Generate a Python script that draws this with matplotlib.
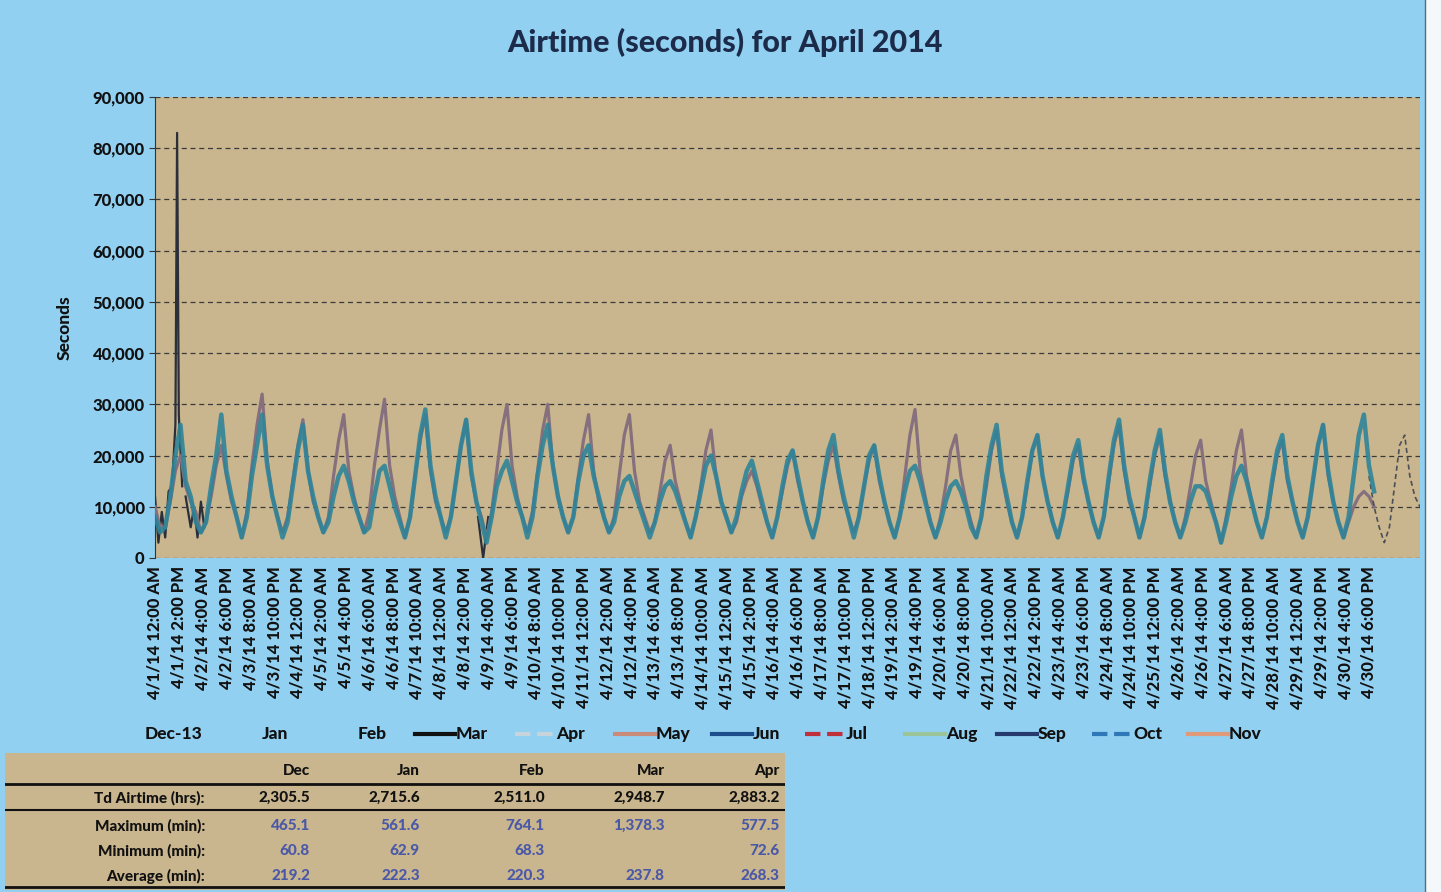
import numpy as np
import pandas as pd
import matplotlib
matplotlib.use("Agg")
from matplotlib import pyplot as plt
from matplotlib.lines import Line2D
from matplotlib.patches import Rectangle

plt.rcParams['font.family'] = ['Lato', 'DejaVu Sans']

# hourly samples per day, in thousands of seconds: 0h 3h 6h 9h 12h 15h 18h 21h
sample_hours = [0, 3, 6, 9, 12, 15, 18, 21]

teal_rows = [
    [8, 5, 6, 12, 20, 26, 15, 12],
    [7, 5, 7, 14, 20, 28, 17, 12],
    [8, 4, 8, 16, 22, 28, 18, 12],
    [8, 4, 7, 14, 21, 26, 17, 12],
    [8, 5, 7, 12, 16, 18, 15, 11],
    [8, 5, 6, 12, 17, 18, 14, 10],
    [7, 4, 8, 16, 24, 29, 18, 12],
    [8, 4, 8, 15, 22, 27, 17, 11],
    [7, 3, 8, 14, 17, 19, 15, 11],
    [8, 4, 8, 16, 22, 26, 18, 12],
    [8, 5, 8, 15, 20, 22, 16, 12],
    [8, 5, 7, 12, 15, 16, 13, 10],
    [7, 4, 7, 11, 14, 15, 13, 10],
    [7, 4, 8, 13, 18, 20, 16, 11],
    [8, 5, 8, 13, 17, 19, 15, 11],
    [7, 4, 8, 14, 19, 21, 16, 11],
    [7, 4, 8, 15, 21, 24, 17, 12],
    [8, 4, 8, 14, 20, 22, 16, 11],
    [7, 4, 8, 13, 17, 18, 15, 11],
    [7, 4, 7, 11, 14, 15, 13, 10],
    [6, 4, 8, 16, 22, 26, 17, 12],
    [7, 4, 8, 15, 21, 24, 16, 11],
    [7, 4, 8, 14, 20, 23, 16, 11],
    [7, 4, 8, 16, 23, 27, 18, 12],
    [8, 4, 8, 15, 21, 25, 17, 11],
    [7, 4, 7, 11, 14, 14, 13, 10],
    [7, 3, 7, 12, 16, 18, 15, 11],
    [7, 4, 8, 15, 21, 24, 16, 11],
    [7, 4, 8, 15, 22, 26, 17, 11],
    [7, 4, 8, 16, 24, 28, 18, 13],
]

mauve_rows = [
    [10, 6, 6, 11, 17, 20, 14, 11],
    [9, 5, 7, 12, 18, 22, 16, 11],
    [8, 4, 9, 18, 26, 32, 19, 12],
    [8, 5, 8, 15, 22, 27, 17, 11],
    [8, 5, 8, 16, 23, 28, 17, 12],
    [8, 5, 9, 18, 25, 31, 18, 12],
    [8, 4, 8, 16, 23, 28, 17, 11],
    [8, 5, 8, 15, 22, 27, 16, 11],
    [8, 4, 9, 17, 25, 30, 18, 12],
    [8, 5, 9, 17, 25, 30, 18, 12],
    [8, 5, 8, 16, 23, 28, 17, 11],
    [8, 5, 8, 16, 24, 28, 17, 11],
    [8, 5, 7, 13, 19, 22, 15, 11],
    [7, 4, 8, 14, 21, 25, 16, 11],
    [8, 5, 7, 12, 15, 17, 14, 10],
    [7, 4, 8, 13, 18, 21, 15, 11],
    [7, 4, 8, 14, 19, 22, 16, 11],
    [8, 5, 8, 14, 19, 22, 15, 11],
    [7, 4, 8, 16, 24, 29, 17, 12],
    [7, 4, 8, 14, 21, 24, 16, 11],
    [7, 4, 8, 14, 21, 25, 16, 11],
    [7, 4, 8, 14, 21, 24, 16, 11],
    [7, 4, 8, 13, 19, 22, 15, 11],
    [7, 4, 8, 15, 22, 26, 17, 11],
    [8, 4, 8, 14, 20, 24, 16, 11],
    [7, 4, 8, 14, 20, 23, 15, 11],
    [7, 3, 8, 14, 21, 25, 16, 11],
    [7, 4, 8, 14, 20, 23, 15, 11],
    [7, 4, 8, 15, 22, 26, 16, 11],
    [7, 4, 7, 10, 12, 13, 12, 10],
]

# dashed grey series running into a 31st day
gray_hours = [714, 717, 720, 723, 726, 729, 732, 735, 738, 741, 744]
gray_vals = [16, 10, 6, 3, 6, 14, 22, 24, 16, 12, 10]

# dark series: visible fragments only (start, spike, dip)
dark_hours = [0, 2, 4, 6, 8, 10, 12, 13, 14, 16, np.nan, 18, 21, 23, 25, 27, 29, np.nan, 190, 193, 196]
dark_vals = [12, 3, 9, 4, 13, 14, 26, 83, 28, 14, np.nan, 12, 6, 10, 4, 11, 6, np.nan, 8, 0, 8]

legend_names = ['Dec-13', 'Jan', 'Feb', 'Mar', 'Apr', 'May', 'Jun', 'Jul', 'Aug', 'Sep', 'Oct', 'Nov']
legend_colors = [None, None, None, '#111111', '#c8d4dc', '#c98a7a', '#1f4e8c', '#c0303a',
                 '#9cc49a', '#263a6e', '#2f78b8', '#e09a7a']
legend_styles = [None, None, None, '-', '--', '-', '-', '--', '-', '-', '--', '-']

table_cols = ['Dec', 'Jan', 'Feb', 'Mar', 'Apr']
table_rows = ['Td Airtime (hrs):', 'Maximum (min):', 'Minimum (min):', 'Average (min):']
table_vals = [
    ['2,305.5', '2,715.6', '2,511.0', '2,948.7', '2,883.2'],
    ['465.1', '561.6', '764.1', '1,378.3', '577.5'],
    ['60.8', '62.9', '68.3', '', '72.6'],
    ['219.2', '222.3', '220.3', '237.8', '268.3'],
]

tick_times = pd.date_range('2014-04-01', periods=52, freq='14h')

BG = '#92d0f2'
PLOT_BG = '#c9b68e'
W = 'black'

fig = plt.figure(figsize=(14.41, 8.92), dpi=100, facecolor=BG)
fig.patches.append(Rectangle((1425 / 1441, 0), 16 / 1441, 1, transform=fig.transFigure,
                             facecolor='#f4f8fa', edgecolor='none', zorder=0))
fig.add_artist(Line2D([1425 / 1441, 1425 / 1441], [0, 1], transform=fig.transFigure,
                      color='#5a6a78', lw=1))

ax = fig.add_axes([155 / 1441, 1 - 558 / 892, 1265 / 1441, 461 / 892])
ax.set_facecolor(PLOT_BG)

def flatten(rows):
    hrs, vals = [], []
    for d, row in enumerate(rows):
        for h, v in zip(sample_hours, row):
            hrs.append(d * 24 + h)
            vals.append(v * 1000)
    return np.array(hrs), np.array(vals)

dh = np.array(dark_hours, dtype=float)
dv = np.array(dark_vals, dtype=float) * 1000
ax.plot(dh, dv, color='#2a2f3a', lw=1.6, zorder=2)

mh, mv = flatten(mauve_rows)
ax.plot(mh, mv, color='#86707e', lw=2.3, zorder=3)
th, tv = flatten(teal_rows)
ax.plot(th, tv, color='#2f8499', lw=3.2, alpha=0.9, zorder=4)
ax.plot(gray_hours, np.array(gray_vals) * 1000, color='#4a4f58', lw=1.2,
        ls=(0, (3, 2)), zorder=3)

ax.set_ylim(0, 90000)
ax.set_xlim(0, 744)
ax.set_yticks(np.arange(0, 90001, 10000))
ax.yaxis.set_major_formatter(matplotlib.ticker.FuncFormatter(lambda v, p: f'{int(v):,}'))
ax.grid(axis='y', color='#3a3a3a', ls=(0, (4, 3)), lw=0.9)
ax.set_axisbelow(True)

tick_labels = [f'{t.month}/{t.day}/14 {(t.hour % 12) or 12}:00 {"AM" if t.hour < 12 else "PM"}'
               for t in tick_times]
ax.set_xticks(np.arange(len(tick_times)) * 14)
ax.set_xticklabels(tick_labels, rotation=90, fontsize=12, fontweight=W, color='#111111')
for lab in ax.get_yticklabels():
    lab.set_fontweight(W)
    lab.set_fontsize(12)
    lab.set_color('#111111')
ax.tick_params(axis='y', length=4, color='#333333')
ax.tick_params(axis='x', length=0, pad=6)
for s in ['top', 'right', 'bottom']:
    ax.spines[s].set_visible(False)
ax.spines['left'].set_color('#333333')

ax.set_ylabel('Seconds', fontsize=12.5, fontweight=W, color='#111111', labelpad=14)

fig.text(725 / 1441, 1 - 42 / 892, 'Airtime (seconds) for April 2014', ha='center', va='center',
         fontsize=22, fontweight=W, color='#1d2b4a')

# legend row
leg_x = [145, 262, 358, 415, 515, 615, 712, 805, 905, 997, 1092, 1188]
leg_y = 1 - 734 / 892
for name, col, ls, x in zip(legend_names, legend_colors, legend_styles, leg_x):
    tx = x
    if col is not None:
        fig.add_artist(Line2D([x / 1441, (x + 40) / 1441], [leg_y, leg_y], transform=fig.transFigure,
                              color=col, lw=3, ls=ls))
        tx = x + 41
    fig.text(tx / 1441, leg_y, name, ha='left', va='center', fontsize=12.5, fontweight=W,
             color='#111111')

# summary table
tax = fig.add_axes([5 / 1441, 2 / 892, 780 / 1441, 137 / 892])
tax.set_facecolor(PLOT_BG)
tax.set_xlim(0, 780)
tax.set_ylim(137, 0)
tax.set_xticks([])
tax.set_yticks([])
for s in tax.spines.values():
    s.set_visible(False)
col_x = [305, 415, 540, 660, 775]
for c, x in zip(table_cols, col_x):
    tax.text(x, 18, c, ha='right', va='center', fontsize=11, fontweight=W, color='#111111')
tax.axhline(31, color='#111111', lw=2)
tax.axhline(57, color='#111111', lw=1.5)
tax.axhline(134, color='#111111', lw=2)
row_y = [45, 73, 98, 123]
for i, (rname, vals) in enumerate(zip(table_rows, table_vals)):
    tax.text(200, row_y[i], rname, ha='right', va='center', fontsize=11, fontweight=W,
             color='#111111')
    vcol = '#111111' if i == 0 else '#4a58a8'
    for x, v in zip(col_x, vals):
        tax.text(x, row_y[i], v, ha='right', va='center', fontsize=11, fontweight=W,
                 color=vcol)

fig.savefig('out.png', dpi=100, facecolor=BG)
